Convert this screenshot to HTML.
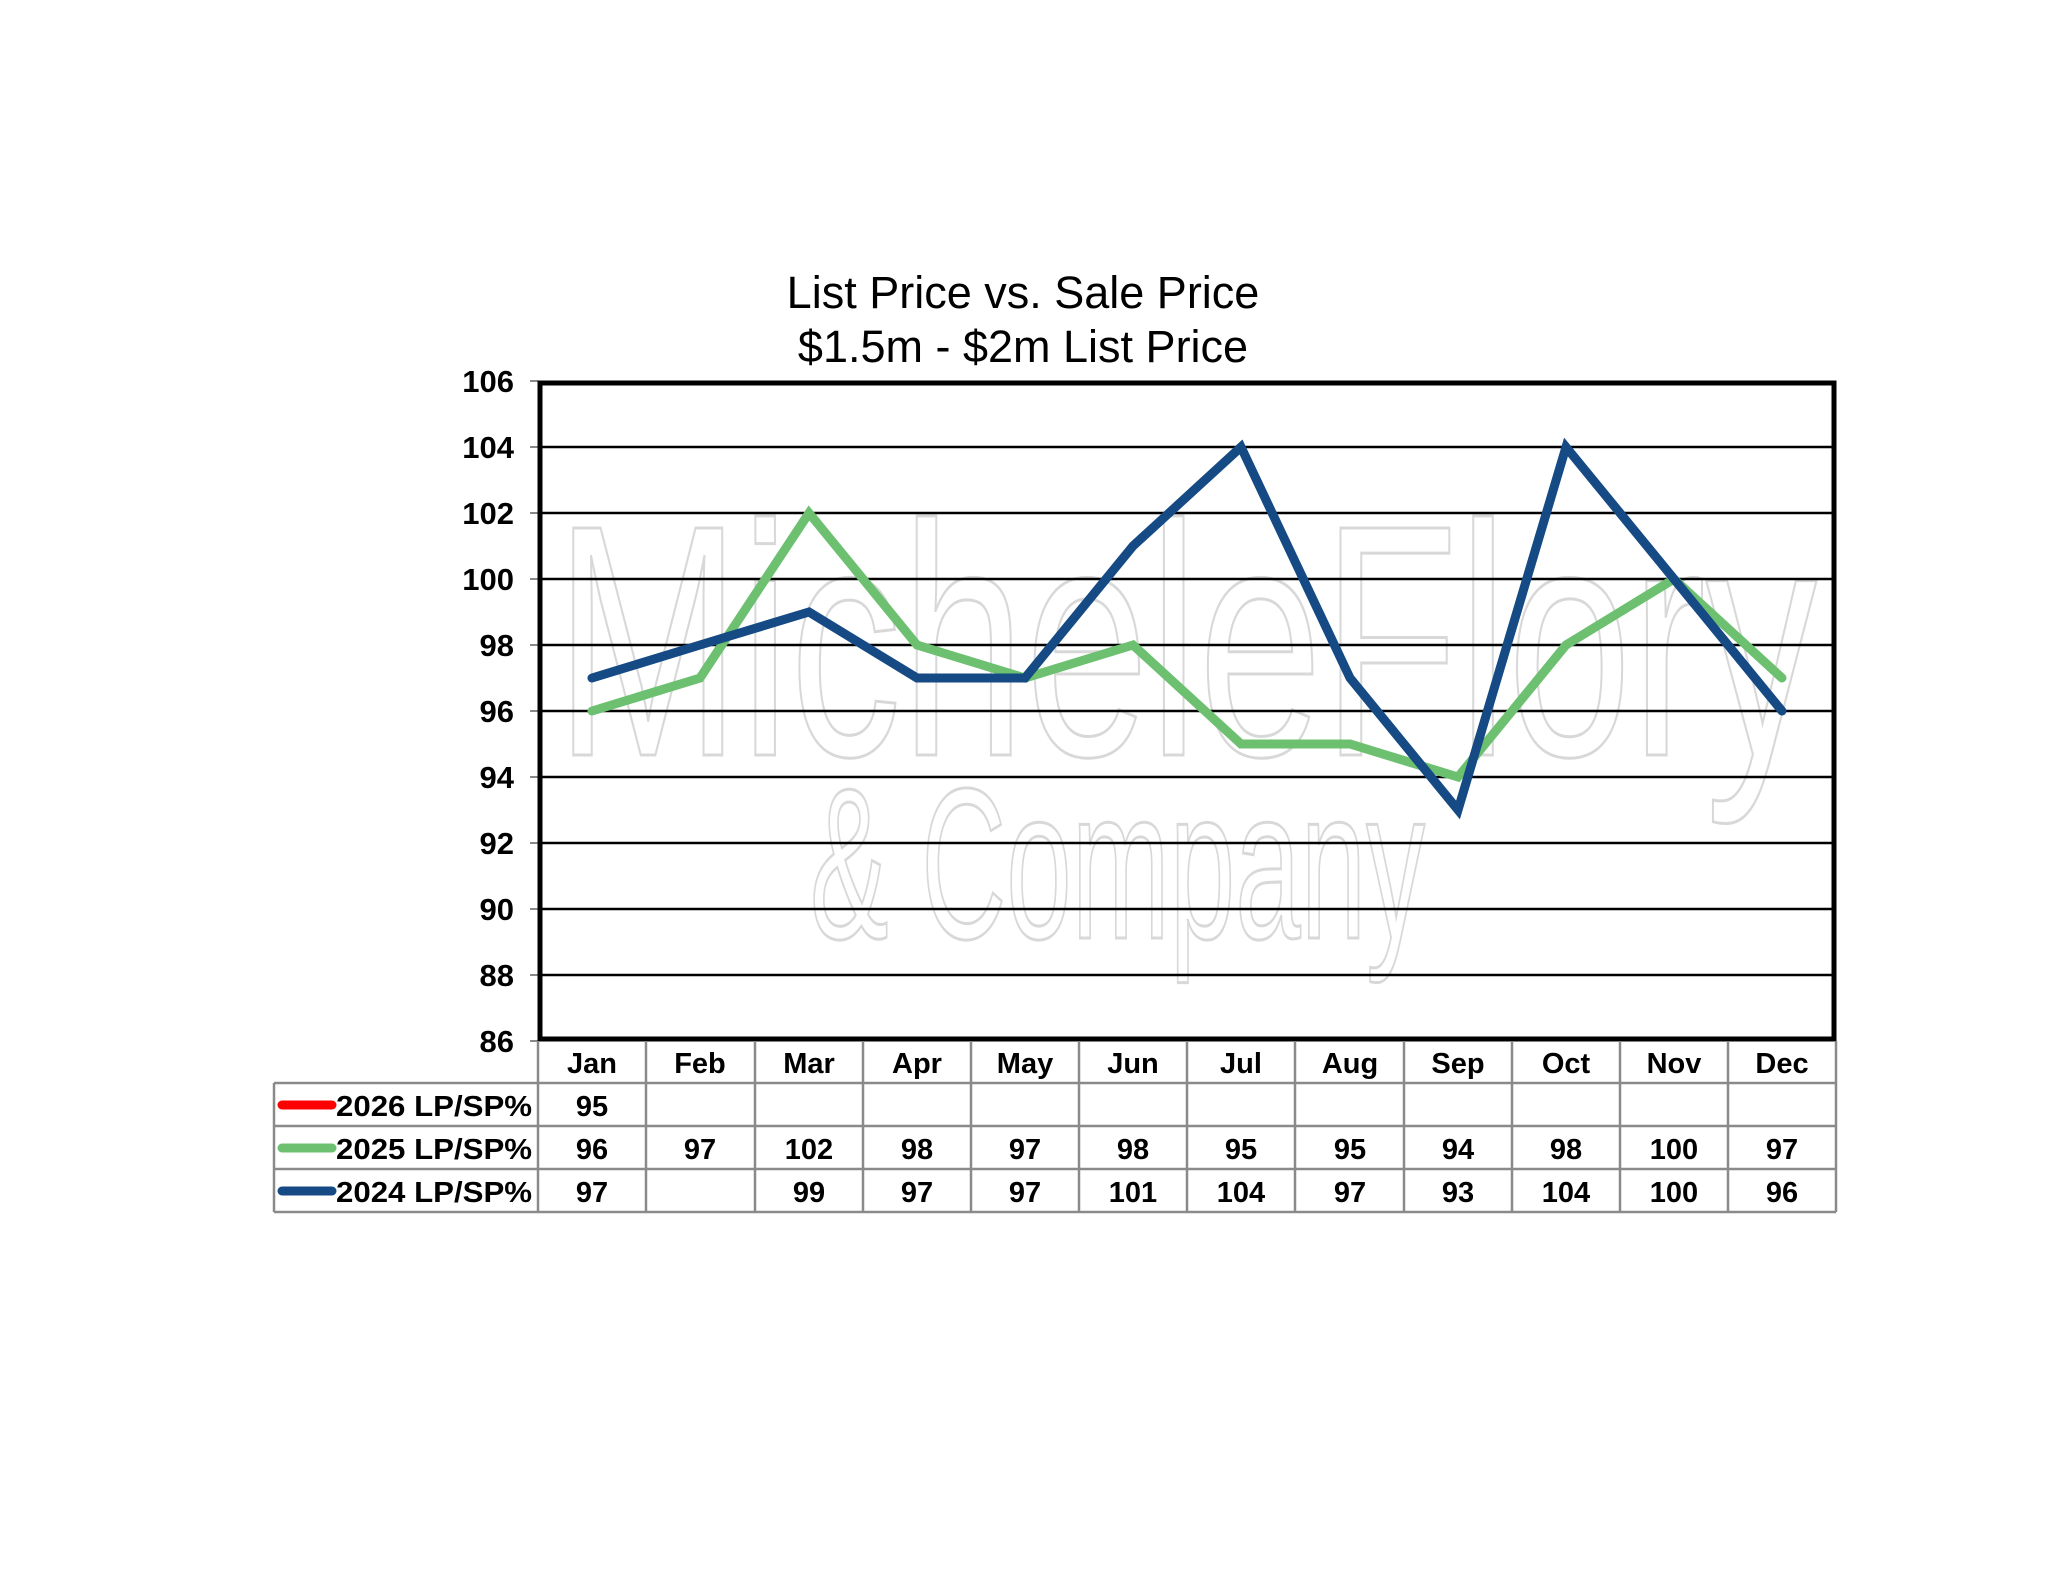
<!DOCTYPE html>
<html><head><meta charset="utf-8"><style>
html,body{margin:0;padding:0;background:#fff;}
svg{display:block;}
text{font-family:"Liberation Sans",Arial,sans-serif;}
</style></head><body>
<svg width="2048" height="1583" viewBox="0 0 2048 1583" xmlns="http://www.w3.org/2000/svg">
<rect width="2048" height="1583" fill="#fff"/>
<!-- watermark -->
<g fill="none" stroke="#d8d8d8" stroke-width="3">
<text x="555" y="755" font-size="330" textLength="1262" lengthAdjust="spacingAndGlyphs">MicheleFlory</text>
<text x="810" y="938" font-size="215" textLength="615" lengthAdjust="spacingAndGlyphs">&amp; Company</text>
</g>
<!-- title -->
<text x="1023" y="308" font-size="45" text-anchor="middle">List Price vs. Sale Price</text>
<text x="1023" y="362" font-size="45" text-anchor="middle">$1.5m - $2m List Price</text>
<!-- gridlines -->
<g stroke="#000" stroke-width="2.5">
<line x1="538" x2="1836" y1="447" y2="447"/>
<line x1="538" x2="1836" y1="513" y2="513"/>
<line x1="538" x2="1836" y1="579" y2="579"/>
<line x1="538" x2="1836" y1="645" y2="645"/>
<line x1="538" x2="1836" y1="711" y2="711"/>
<line x1="538" x2="1836" y1="777" y2="777"/>
<line x1="538" x2="1836" y1="843" y2="843"/>
<line x1="538" x2="1836" y1="909" y2="909"/>
<line x1="538" x2="1836" y1="975" y2="975"/>
</g>
<!-- ticks -->
<g stroke="#888" stroke-width="2">
<line x1="530" x2="538" y1="381" y2="381"/><line x1="530" x2="538" y1="447" y2="447"/><line x1="530" x2="538" y1="513" y2="513"/><line x1="530" x2="538" y1="579" y2="579"/><line x1="530" x2="538" y1="645" y2="645"/><line x1="530" x2="538" y1="711" y2="711"/><line x1="530" x2="538" y1="777" y2="777"/><line x1="530" x2="538" y1="843" y2="843"/><line x1="530" x2="538" y1="909" y2="909"/><line x1="530" x2="538" y1="975" y2="975"/><line x1="530" x2="538" y1="1041" y2="1041"/>
</g>
<!-- y labels -->
<g font-size="31" font-weight="bold" text-anchor="end">
<text x="514" y="392">106</text><text x="514" y="458">104</text><text x="514" y="524">102</text><text x="514" y="590">100</text><text x="514" y="656">98</text><text x="514" y="722">96</text><text x="514" y="788">94</text><text x="514" y="854">92</text><text x="514" y="920">90</text><text x="514" y="986">88</text><text x="514" y="1052">86</text>
</g>
<!-- series -->
<polyline fill="none" stroke="#6cc070" stroke-width="9" stroke-linejoin="miter" stroke-linecap="round" points="592,711 700,678 809,513 917,645 1025,678 1133,645 1241,744 1350,744 1458,777 1566,645 1674,579 1782,678"/>
<polyline fill="none" stroke="#154a84" stroke-width="9" stroke-linejoin="miter" stroke-linecap="round" points="592,678 700,645 809,612 917,678 1025,678 1133,546 1241,447 1350,678 1458,810 1566,447 1674,579 1782,711"/>
<!-- plot border -->
<rect x="540" y="383" width="1294" height="656" fill="none" stroke="#000" stroke-width="5"/>
<!-- table -->
<g stroke="#8a8a8a" stroke-width="2.5" fill="none">
<line x1="274" x2="1836" y1="1083" y2="1083"/>
<line x1="274" x2="1836" y1="1126" y2="1126"/>
<line x1="274" x2="1836" y1="1169" y2="1169"/>
<line x1="274" x2="1836" y1="1212" y2="1212"/>
<line x1="274" x2="274" y1="1083" y2="1212"/>
<line x1="538" x2="538" y1="1041" y2="1212"/>
<line x1="646" x2="646" y1="1041" y2="1212"/>
<line x1="755" x2="755" y1="1041" y2="1212"/>
<line x1="863" x2="863" y1="1041" y2="1212"/>
<line x1="971" x2="971" y1="1041" y2="1212"/>
<line x1="1079" x2="1079" y1="1041" y2="1212"/>
<line x1="1187" x2="1187" y1="1041" y2="1212"/>
<line x1="1295" x2="1295" y1="1041" y2="1212"/>
<line x1="1404" x2="1404" y1="1041" y2="1212"/>
<line x1="1512" x2="1512" y1="1041" y2="1212"/>
<line x1="1620" x2="1620" y1="1041" y2="1212"/>
<line x1="1728" x2="1728" y1="1041" y2="1212"/>
<line x1="1836" x2="1836" y1="1041" y2="1212"/>
</g>
<!-- legend keys -->
<g stroke-width="9" stroke-linecap="round">
<line x1="282" x2="332" y1="1105" y2="1105" stroke="#ff0000"/>
<line x1="282" x2="332" y1="1148" y2="1148" stroke="#6cc070"/>
<line x1="282" x2="332" y1="1191" y2="1191" stroke="#154a84"/>
</g>
<g font-size="29" font-weight="bold">
<text x="336" y="1116" textLength="196" lengthAdjust="spacingAndGlyphs">2026 LP/SP%</text>
<text x="336" y="1159" textLength="196" lengthAdjust="spacingAndGlyphs">2025 LP/SP%</text>
<text x="336" y="1202" textLength="196" lengthAdjust="spacingAndGlyphs">2024 LP/SP%</text>
</g>
<g font-size="29" font-weight="bold" text-anchor="middle">
<text x="592" y="1073">Jan</text><text x="700" y="1073">Feb</text><text x="809" y="1073">Mar</text><text x="917" y="1073">Apr</text><text x="1025" y="1073">May</text><text x="1133" y="1073">Jun</text><text x="1241" y="1073">Jul</text><text x="1350" y="1073">Aug</text><text x="1458" y="1073">Sep</text><text x="1566" y="1073">Oct</text><text x="1674" y="1073">Nov</text><text x="1782" y="1073">Dec</text>
<text x="592" y="1116">95</text>
<text x="592" y="1159">96</text><text x="700" y="1159">97</text><text x="809" y="1159">102</text><text x="917" y="1159">98</text><text x="1025" y="1159">97</text><text x="1133" y="1159">98</text><text x="1241" y="1159">95</text><text x="1350" y="1159">95</text><text x="1458" y="1159">94</text><text x="1566" y="1159">98</text><text x="1674" y="1159">100</text><text x="1782" y="1159">97</text>
<text x="592" y="1202">97</text><text x="809" y="1202">99</text><text x="917" y="1202">97</text><text x="1025" y="1202">97</text><text x="1133" y="1202">101</text><text x="1241" y="1202">104</text><text x="1350" y="1202">97</text><text x="1458" y="1202">93</text><text x="1566" y="1202">104</text><text x="1674" y="1202">100</text><text x="1782" y="1202">96</text>
</g>
</svg>
</body></html>
